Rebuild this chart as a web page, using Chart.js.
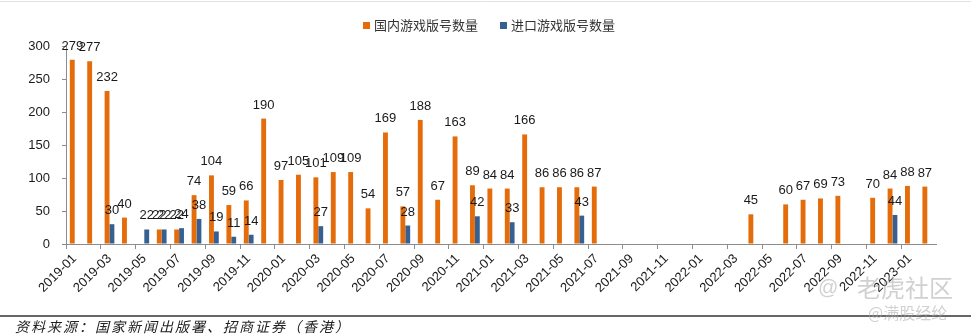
<!doctype html>
<html>
<head>
<meta charset="utf-8">
<title>游戏版号数量</title>
<script src="https://cdn.jsdelivr.net/npm/chart.js"></script>
<style>
    html, body { margin: 0; padding: 0; background: #fff; }
    #wrap { width: 971px; height: 336px; position: relative; }
</style>
</head>
<body>
<div id="wrap"><canvas id="banhao"></canvas></div>
<script>
    // 月份（2019-01 ~ 2023-02）
    var months = [
        '2019-01', '2019-02', '2019-03', '2019-04', '2019-05', '2019-06',
        '2019-07', '2019-08', '2019-09', '2019-10', '2019-11', '2019-12',
        '2020-01', '2020-02', '2020-03', '2020-04', '2020-05', '2020-06',
        '2020-07', '2020-08', '2020-09', '2020-10', '2020-11', '2020-12',
        '2021-01', '2021-02', '2021-03', '2021-04', '2021-05', '2021-06',
        '2021-07', '2021-08', '2021-09', '2021-10', '2021-11', '2021-12',
        '2022-01', '2022-02', '2022-03', '2022-04', '2022-05', '2022-06',
        '2022-07', '2022-08', '2022-09', '2022-10', '2022-11', '2022-12',
        '2023-01', '2023-02'
    ];

    // 国内游戏版号数量
    var guonei = [
        279, 277, 232, 40, null, 22,
        22, 74, 104, 59, 66, 190,
        97, 105, 101, 109, 109, 54,
        169, 57, 188, 67, 163, 89,
        84, 84, 166, 86, 86, 86,
        87, null, null, null, null, null,
        null, null, null, 45, null, 60,
        67, 69, 73, null, 70, 84,
        88, 87
    ];

    // 进口游戏版号数量
    var jinkou = [
        null, null, 30, null, 22, 22,
        24, 38, 19, 11, 14, null,
        null, null, 27, null, null, null,
        null, 28, null, null, null, 42,
        null, 33, null, null, null, 43,
        null, null, null, null, null, null,
        null, null, null, null, null, null,
        null, null, null, null, null, 44,
        null, null
    ];

    var yTicks = [0, 50, 100, 150, 200, 250, 300];
    var sourceNote = '资料来源：国家新闻出版署、招商证券（香港）';

    var cjk = '"Noto Sans CJK SC", "Noto Sans", sans-serif';
    var latin = '"Liberation Sans", Arial, sans-serif';
    var axisGray = '#8c8c8c';

    // 柱顶数值
    var valueLabels = {
        id: 'valueLabels',
        afterDatasetsDraw: function (chart) {
            var ctx = chart.ctx;
            ctx.save();
            ctx.font = '13px ' + latin;
            ctx.fillStyle = '#1a1a1a';
            ctx.textAlign = 'center';
            ctx.textBaseline = 'alphabetic';
            chart.data.datasets.forEach(function (ds, i) {
                chart.getDatasetMeta(i).data.forEach(function (bar, j) {
                    if (ds.data[j] == null) return;
                    ctx.fillText(String(ds.data[j]), bar.x, bar.y - 10);
                });
            });
            ctx.restore();
        }
    };

    // 图例、上下分隔线、资料来源、水印
    var decor = {
        id: 'decor',
        afterDraw: function (chart) {
            var ctx = chart.ctx;
            var w = chart.width;
            ctx.save();

            ctx.strokeStyle = '#e2e2e2';
            ctx.lineWidth = 1;
            ctx.beginPath();
            ctx.moveTo(0, 1.5);
            ctx.lineTo(w, 1.5);
            ctx.stroke();

            // 图例
            ctx.font = '13px ' + cjk;
            ctx.textBaseline = 'middle';
            ctx.textAlign = 'left';
            var x = 363;
            chart.data.datasets.forEach(function (ds) {
                ctx.fillStyle = ds.backgroundColor;
                ctx.fillRect(x, 22, 7, 7);
                ctx.fillStyle = '#333';
                ctx.fillText(ds.label, x + 11, 25.5);
                x += 11 + ctx.measureText(ds.label).width + 22;
            });

            ctx.strokeStyle = '#333';
            ctx.lineWidth = 1.5;
            ctx.beginPath();
            ctx.moveTo(0, 316);
            ctx.lineTo(w, 316);
            ctx.stroke();

            ctx.letterSpacing = '2px';
            ctx.font = 'italic 14px ' + cjk;
            ctx.fillStyle = '#222';
            ctx.fillText(sourceNote, 15, 327);

            // 水印
            ctx.letterSpacing = '0px';
            ctx.fillStyle = 'rgba(170,170,170,0.55)';
            ctx.font = '20px ' + latin;
            ctx.fillText('@', 818, 288);
            ctx.font = '24px ' + cjk;
            ctx.fillText('老虎社区', 857, 288);
            ctx.font = '16px ' + cjk;
            ctx.fillText('@满股经纶', 868, 313);

            ctx.restore();
        }
    };

    var grafico = new Chart(document.getElementById('banhao').getContext('2d'), {
        type: 'bar',
        data: {
            labels: months,
            datasets: [{
                label: '国内游戏版号数量',
                backgroundColor: '#E46C0A',
                data: guonei,
                categoryPercentage: 0.56,
                barPercentage: 1.0
            }, {
                label: '进口游戏版号数量',
                backgroundColor: '#376092',
                data: jinkou,
                categoryPercentage: 0.56,
                barPercentage: 1.0
            }]
        },
        options: {
            responsive: true,
            maintainAspectRatio: false,
            animation: false,
            devicePixelRatio: 1,
            layout: {
                padding: { top: 46, left: 0, right: 35, bottom: 30 }
            },
            plugins: {
                legend: { display: false },
                tooltip: { enabled: false }
            },
            scales: {
                x: {
                    offset: true,
                    afterFit: function (scale) { scale.height = 62; },
                    border: { display: true, color: axisGray, width: 1 },
                    grid: {
                        offset: true,
                        drawOnChartArea: false,
                        drawTicks: true,
                        tickLength: 5,
                        color: function (c) { return c.index % 2 === 0 ? axisGray : 'rgba(0,0,0,0)'; }
                    },
                    ticks: {
                        autoSkip: false,
                        minRotation: 45,
                        maxRotation: 45,
                        padding: 2,
                        color: '#1a1a1a',
                        font: { family: latin, size: 13 },
                        callback: function (v, i) { return i % 2 === 0 ? months[i] : ''; }
                    }
                },
                y: {
                    min: 0,
                    max: 300,
                    afterFit: function (scale) { scale.width = 66; },
                    afterBuildTicks: function (scale) {
                        scale.ticks = yTicks.map(function (v) { return { value: v }; });
                    },
                    border: { display: true, color: axisGray, width: 1 },
                    grid: {
                        drawOnChartArea: false,
                        drawTicks: true,
                        tickLength: 4,
                        color: axisGray
                    },
                    ticks: {
                        padding: 12,
                        color: '#1a1a1a',
                        font: { family: latin, size: 13 }
                    }
                }
            }
        },
        plugins: [valueLabels, decor]
    });
</script>
</body>
</html>
